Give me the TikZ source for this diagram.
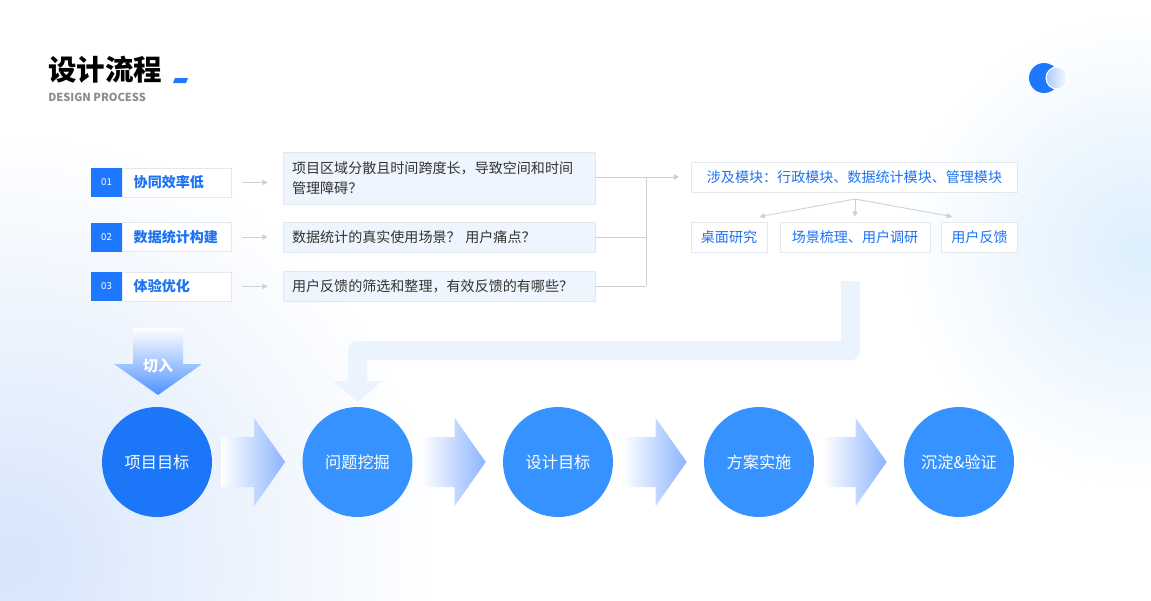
\documentclass[tikz,border=0pt]{standalone}
\usepackage{fontspec}
\setmainfont{Noto Sans CJK SC}
\usetikzlibrary{positioning,calc,arrows.meta}

\definecolor{mainblue}{HTML}{1E78FF}
\definecolor{textblue}{HTML}{1D72F2}
\definecolor{circblue}{HTML}{3592FF}
\definecolor{circdark}{HTML}{1B77F7}
\definecolor{boxline}{HTML}{E3E7EE}
\definecolor{qfill}{HTML}{EEF5FE}
\definecolor{connGray}{HTML}{CDD1D7}
\definecolor{lfill}{HTML}{EBF3FF}
\definecolor{qtext}{HTML}{333333}
\definecolor{subgray}{HTML}{8C8C8C}
\definecolor{glowright}{HTML}{DDEFFD}
\definecolor{glowleft}{HTML}{D6E5FB}
\definecolor{chevblue}{HTML}{8DB4FF}
\definecolor{cutblue}{HTML}{4F92FF}
\definecolor{moonlight}{HTML}{A9C8FF}

\tikzset{
  numbox/.style={fill=mainblue,text=white,minimum width=0.62cm,minimum height=0.58cm,inner sep=0pt,font=\fontsize{5.5}{5.5}\selectfont},
  labelbox/.style={draw=boxline,fill=white,minimum height=0.58cm,text width=1.74cm,inner xsep=0.22cm,inner ysep=0pt,align=left,text=textblue,font=\fontsize{8}{8}\bfseries},
  qbox/.style={draw=boxline,fill=qfill,text width=5.88cm,inner xsep=0.18cm,inner ysep=0pt,align=left,text=qtext,font=\fontsize{8}{11.3}\selectfont},
  modbox/.style={draw=boxline,fill=white,minimum height=0.6cm,inner xsep=0.2cm,inner ysep=0pt,text=textblue,font=\fontsize{8}{8}\selectfont},
  stepcircle/.style={circle,minimum size=2.2cm,inner sep=0pt,fill=circblue,text=white,font=\fontsize{9.2}{9.2}\selectfont},
  conn/.style={draw=connGray,line width=0.5pt},
  tip/.style={-{Triangle[length=3pt,width=3pt]}}
}

\begin{document}
\begin{tikzpicture}[x=0.02cm,y=-0.02cm]
	\useasboundingbox[fill=white] (0,0) rectangle (1151,600);
	
	% soft background glows
	\begin{scope}
		\clip (0,0) rectangle (1151,600);
		\shade[inner color=glowright,outer color=white] (1140,250) circle (240);
		\shade[inner color=glowleft,outer color=white] (10,560) circle (430);
	\end{scope}
	
	% title
	\node[anchor=west,inner sep=0pt,font=\fontsize{16.2}{16.2}\bfseries] (title) at (48,70) {设计流程};
	\fill[mainblue] (173,83) -- (175,78) -- (188,78) -- (186,83) -- cycle;
	\node[anchor=west,inner sep=0pt,text=subgray,font=\fontsize{6.3}{6.3}\bfseries] (subtitle) at (48,97) {DESIGN PROCESS};
	
	% moon
	\fill[mainblue] (1044,78) circle (15);
	\shade[left color=moonlight,right color=white,draw=white,line width=0.6pt] (1057,78) circle (11);
	
	% left column
	\node[numbox] (n1) at (106.5,182.5) {01};
	\node[labelbox,anchor=west] (t1) at (n1.east) {协同效率低};
	\node[numbox] (n2) at (106.5,237) {02};
	\node[labelbox,anchor=west] (t2) at (n2.east) {数据统计构建};
	\node[numbox] (n3) at (106.5,286.5) {03};
	\node[labelbox,anchor=west] (t3) at (n3.east) {体验优化};
	
	\node[qbox,minimum height=1.04cm] (q1) at (439,178) {项目区域分散且时间跨度长，导致空间和时间\\管理障碍？};
	\node[qbox,minimum height=0.6cm] (q2) at (439,237) {数据统计的真实使用场景？ 用户痛点？};
	\node[qbox,minimum height=0.6cm] (q3) at (439,286) {用户反馈的筛选和整理，有效反馈的有哪些？};
	
	\draw[conn,tip,shorten <=0.2cm,shorten >=0.3cm] (t1) -- (t1 -| q1.west);
	\draw[conn,tip,shorten <=0.2cm,shorten >=0.3cm] (t2) -- (q2);
	\draw[conn,tip,shorten <=0.2cm,shorten >=0.3cm] (t3) -- (t3 -| q3.west);
	
	% right column
	\node[modbox,minimum width=6.52cm] (mod) at (854.5,177) {涉及模块：行政模块、数据统计模块、管理模块};
	\node[modbox,minimum width=1.48cm] (d1) at (729,237) {桌面研究};
	\node[modbox,minimum width=3cm] (d2) at (855,237) {场景梳理、用户调研};
	\node[modbox,minimum width=1.5cm] (d3) at (979.5,237) {用户反馈};
	
	\coordinate (j) at (646,177);
	\draw[conn] (q1.east |- j) -- (j);
	\draw[conn] (q2.east) -- (q2.east -| j);
	\draw[conn] (q3.east) -- (q3.east -| j);
	\draw[conn] (j) -- (q3.east -| j);
	\draw[conn,tip,shorten >=0.24cm] (j) -- (mod.west);
	
	\coordinate (br) at (855,199);
	\draw[conn,tip] (br) -- ([xshift=-0.16cm,yshift=0.1cm]d1.north east);
	\draw[conn,tip] (br) -- ([yshift=0.1cm]d2.north);
	\draw[conn,tip] (br) -- ([xshift=0.22cm,yshift=0.1cm]d3.north west);
	
	% return band
	\fill[lfill] (841,281) -- (860,281) [rounded corners=0.18cm] -- (860,360) [sharp corners] -- (367,360) -- (367,381) -- (382,381) -- (358,402) -- (333,381) -- (348,381) [rounded corners=0.18cm] -- (348,341) [sharp corners] -- (841,341) -- cycle;
	
	% entry arrow
	\shade[top color=white,bottom color=cutblue] (133,328) -- (183,328) -- (183,364) -- (202,364) -- (158,395) -- (114,364) -- (133,364) -- cycle;
	\node[text=white,font=\fontsize{8.5}{8.5}\bfseries] (cut) at (158,366) {切入};
	
	% process
	\node[stepcircle,fill=circdark] (c1) at (157,462) {项目目标};
	\node[stepcircle] (c2) at (357.5,462) {问题挖掘};
	\node[stepcircle] (c3) at (558,462) {设计目标};
	\node[stepcircle] (c4) at (759,462) {方案实施};
	\node[stepcircle] (c5) at (959,462) {沉淀\&验证};
	
	\foreach \j in {2,3,4,5}{
		\path (c\j.west) ++(-17,0) coordinate (t);
		\shade[left color=white,right color=chevblue] (t) -- ++(-31,-44) -- ++(0,19) -- ++(-33,0) -- ++(0,50) -- ++(33,0) -- ++(0,19) -- cycle;
	}
\end{tikzpicture}
\end{document}
